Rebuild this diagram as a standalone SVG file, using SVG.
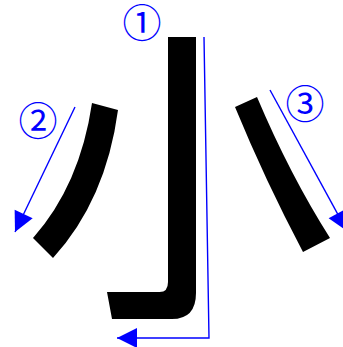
<svg xmlns="http://www.w3.org/2000/svg" width="343" height="347" viewBox="0 0 343 347">
<style>
.stroke{fill:#000;stroke:none}
.guide{fill:none;stroke:#0000ff;stroke-width:1.4}
.num{fill:#0000ff;font-family:"Noto Sans CJK JP","DejaVu Sans",sans-serif;font-size:39px;text-anchor:middle}
</style>
<defs>
<marker id="arr" markerUnits="userSpaceOnUse" markerWidth="22" markerHeight="22" viewBox="0 -11 21 22" refX="20" refY="0" orient="auto">
<path d="M0,-10 L20,0 L0,10 Z" fill="#0000ff"/>
</marker>
</defs>
<rect width="343" height="347" fill="#fff"/>
<g id="stroke1">
<path class="stroke" d="M168,37 H196 V293 Q196,320 170,319 H112 L107,292 H158 Q168,293 168,282 Z"/>
</g>
<g id="stroke2">
<path class="stroke" d="M92,103 L118,110 Q106,200 53,258 L33,238 Q80,185 92,103 Z"/>
</g>
<g id="stroke3">
<path class="stroke" d="M235,107 L257,97 Q290,175 330,238 L303,252 Q265,180 235,107 Z"/>
</g>
<g id="connectors">
<polyline class="guide" points="204,37 209,338 117,338" marker-end="url(#arr)"/>
<line class="guide" x1="75" y1="107" x2="15" y2="232" marker-end="url(#arr)"/>
<line class="guide" x1="270" y1="90" x2="347" y2="231" marker-end="url(#arr)"/>
</g>
<g id="label1"><text class="num" x="142" y="37">①</text></g>
<g id="label2"><text class="num" x="38" y="135">②</text></g>
<g id="label3"><text class="num" x="305" y="118">③</text></g>
</svg>
